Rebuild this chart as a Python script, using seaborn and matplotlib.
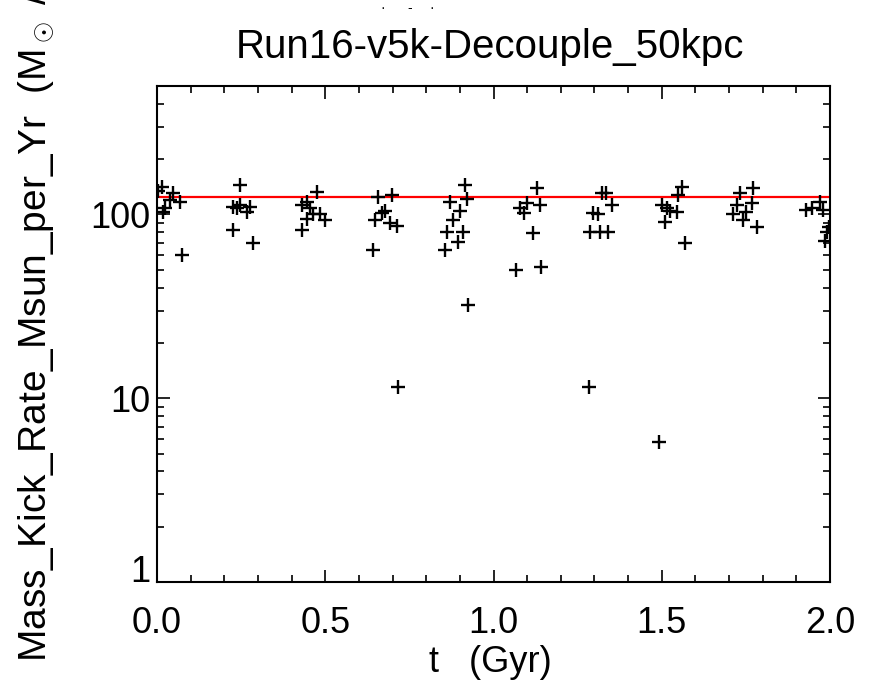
import matplotlib
matplotlib.use("Agg")
import matplotlib.pyplot as plt
import seaborn as sns
import numpy as np
import pandas as pd
from matplotlib.ticker import MultipleLocator, LogLocator, FixedLocator, NullFormatter

# ---- data ----
t_gyr = [0.003, 0.015, 0.048, 0.068, 0.024, 0.018, 0.039, 0.074,
         0.247, 0.226, 0.247, 0.276, 0.267, 0.238, 0.226, 0.285,
         0.475, 0.446, 0.431, 0.455, 0.464, 0.446, 0.484, 0.499, 0.431,
         0.657, 0.698, 0.669, 0.678, 0.648, 0.692, 0.713, 0.642, 0.716,
         0.915, 0.871, 0.921, 0.900, 0.880, 0.862, 0.910, 0.895, 0.856, 0.924,
         1.129, 1.100, 1.138, 1.080, 1.090, 1.117, 1.067, 1.141,
         1.323, 1.333, 1.352, 1.296, 1.310, 1.287, 1.317, 1.341, 1.284,
         1.560, 1.548, 1.500, 1.515, 1.524, 1.545, 1.510, 1.569, 1.492,
         1.771, 1.733, 1.724, 1.768, 1.712, 1.741, 1.783, 1.750,
         1.930, 1.947, 1.970, 1.980, 1.990, 1.985, 1.998]
kick_rate = [135, 141, 131, 117, 109, 103, 120, 60,
             145, 110, 112, 110, 103, 108, 82, 70,
             133, 117, 112, 108, 100, 95, 100, 93, 82,
             124, 127, 102, 104, 93, 90, 87, 64, 11.5,
             145, 117, 122, 105, 93, 80, 80, 71, 64, 32,
             139, 115, 112, 108, 102, 79, 50, 52,
             131, 131, 112, 102, 100, 80, 80, 80, 11.5,
             141, 127, 112, 108, 105, 103, 91, 70, 5.8,
             139, 131, 112, 115, 100, 93, 85, 103,
             106, 108, 117, 106, 80, 72, 85]
reference_rate = 125
x_ticks = [0.0, 0.5, 1.0, 1.5, 2.0]
x_tick_labels = ["0.0", "0.5", "1.0", "1.5", "2.0"]
y_ticks = [1, 10, 100]
y_tick_labels = ["1", "10", "100"]
title = "Run16-v5k-Decouple_50kpc"
xlabel = "t   (Gyr)"
ylabel = r"Mass_Kick_Rate_Msun_per_Yr  (M$_\odot$ /yr)"

df = pd.DataFrame({"t": t_gyr, "rate": kick_rate})

sns.set_theme(style="ticks")
plt.rcParams["font.family"] = ["Liberation Sans", "DejaVu Sans"]
plt.rcParams["mathtext.fontset"] = "custom"
plt.rcParams["mathtext.rm"] = "Liberation Sans"
plt.rcParams["text.color"] = "black"

FS_TICK = 26
FS_TITLE = 29
FS_XLAB = 26
FS_YLAB = 28

fig = plt.figure(figsize=(8.69, 6.90), dpi=100)
ax = fig.add_axes([157/869, 1-582/690, (830-157)/869, (582-86)/690])

sns.scatterplot(data=df, x="t", y="rate", marker="+", color="black",
                s=110, linewidth=1.7, ax=ax, legend=False, zorder=3)
ax.axhline(reference_rate, color="red", lw=1.6, zorder=2)

ax.set_yscale("log")
ax.set_xlim(0, 2.0)
ax.set_ylim(1, 500)

ax.xaxis.set_major_locator(FixedLocator(x_ticks))
ax.set_xticklabels(x_tick_labels)
ax.xaxis.set_minor_locator(MultipleLocator(0.1))
ax.yaxis.set_major_locator(FixedLocator(y_ticks))
ax.set_yticklabels(y_tick_labels)
ax.yaxis.set_minor_locator(LogLocator(base=10, subs=np.arange(2, 10)))
ax.yaxis.set_minor_formatter(NullFormatter())

ax.tick_params(axis="both", which="both", direction="in", top=True, right=True,
               colors="black", labelcolor="black", labelsize=FS_TICK, width=1.2)
ax.tick_params(axis="both", which="major", length=9)
ax.tick_params(axis="both", which="minor", length=5)
ax.tick_params(axis="x", which="major", pad=17)
ax.tick_params(axis="y", which="major", pad=5)
for s in ax.spines.values():
    s.set_linewidth(1.5)
    s.set_color("black")
# lowest y label sits on the axis (baseline at the tick), as in the reference
ax.get_yticklabels()[0].set_va("baseline")

ax.set_xlabel("")
ax.set_ylabel("")
fig.text(490/869, 1-58/690, title, ha="center", va="baseline", fontsize=FS_TITLE)
fig.text(490/869, 1-672/690, xlabel, ha="center", va="baseline", fontsize=FS_XLAB)
fig.text(36/869, 1-662/690, ylabel, rotation=90, ha="center", va="bottom", fontsize=FS_YLAB)
for xd, mark in zip([383, 410, 432], ["\u00b7", "-", "\u00b7"]):
    fig.text(xd/869, 1-8/690, mark, ha="center", va="center", fontsize=10)

fig.savefig("out.png", dpi=100)
